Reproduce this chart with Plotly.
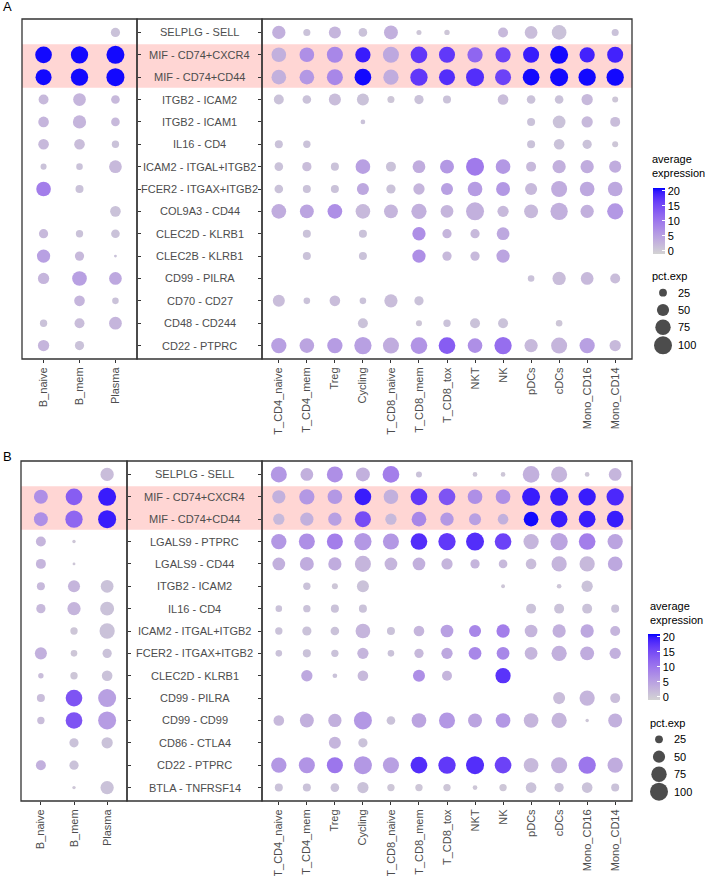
import math
import plotly.graph_objects as go

W, H = 705, 876

# ---------------- data ----------------
rows_A = ["SELPLG - SELL", "MIF - CD74+CXCR4", "MIF - CD74+CD44", "ITGB2 - ICAM2",
          "ITGB2 - ICAM1", "IL16 - CD4", "ICAM2 - ITGAL+ITGB2", "FCER2 - ITGAX+ITGB2",
          "COL9A3 - CD44", "CLEC2D - KLRB1", "CLEC2B - KLRB1", "CD99 - PILRA",
          "CD70 - CD27", "CD48 - CD244", "CD22 - PTPRC"]
rows_B = ["SELPLG - SELL", "MIF - CD74+CXCR4", "MIF - CD74+CD44", "LGALS9 - PTPRC",
          "LGALS9 - CD44", "ITGB2 - ICAM2", "IL16 - CD4", "ICAM2 - ITGAL+ITGB2",
          "FCER2 - ITGAX+ITGB2", "CLEC2D - KLRB1", "CD99 - PILRA", "CD99 - CD99",
          "CD86 - CTLA4", "CD22 - PTPRC", "BTLA - TNFRSF14"]
b_cells = ["B_naive", "B_mem", "Plasma"]
other_cells = ["T_CD4_naive", "T_CD4_mem", "Treg", "Cycling", "T_CD8_naive", "T_CD8_mem",
               "T_CD8_tox", "NKT", "NK", "pDCs", "cDCs", "Mono_CD16", "Mono_CD14"]
highlight_rows = ["MIF - CD74+CXCR4", "MIF - CD74+CD44"]
N = None

# percent expressed, panel A, B-cell block
pct_A_b = [[N, N, 32], [87, 93, 100], [81, 93, 100], [36, 54, 29], [40, 58, 29],
           [40, 40, 23], [18, 20, 54], [69, 26, N], [N, N, 40], [32, 23, 29],
           [58, 32, 10], [44, 69, 54], [N, 40, 20], [23, 36, 54], [44, 32, N]]
expr_A_b = [[N, N, 1], [20.5, 20.5, 20.5], [20.5, 20.5, 20.5], [2, 2.5, 2], [2.5, 2.5, 2],
            [2, 1.5, 1], [1, 1, 2], [9, 1, N], [N, N, 1], [2, 1, 1],
            [5, 2, 1], [2.5, 5, 4], [N, 2.5, 1], [1, 1.5, 2.5], [2.5, 1, N]]

# panel A, other cells
pct_A_o = [
    [58, 22, 49, 29, 63, 15, 16, N, 36, 54, 69, N, 22],
    [69, 69, 81, 74, 81, 87, 81, 74, 74, 81, 100, 74, 81],
    [69, 69, 81, 87, 74, 93, 81, 100, 81, 87, 100, 93, 93],
    [36, 29, 49, 49, 22, 32, 26, N, 40, 29, 29, 44, 18],
    [N, N, N, 14, N, N, N, N, N, 26, 54, 44, 36],
    [26, 23, N, N, N, N, N, N, N, 26, 40, 32, 18],
    [29, 32, 26, 69, 36, 54, 63, 100, 69, 36, 58, 58, 49],
    [29, 26, 26, 49, 32, 44, 49, 69, 63, 49, 81, 69, 69],
    [69, 63, 69, 69, 63, 74, 54, 100, 44, 63, 93, 58, 81],
    [N, 26, N, 26, N, 58, 32, 32, 54, N, N, N, N],
    [N, 26, N, 26, N, 58, 32, 32, 58, N, N, N, N],
    [N, N, N, N, N, N, N, N, N, 20, 58, 54, 36],
    [49, 20, 40, 20, 58, 32, N, N, N, N, N, N, N],
    [N, N, N, 36, N, 18, 23, 36, 36, N, 20, N, N],
    [74, 69, 74, 93, 81, 87, 87, 69, 93, 58, 81, 74, 44]]
expr_A_o = [
    [3, 1, 2.5, 1, 3, 0.5, 0.5, N, 2, 1.5, 1, N, 1],
    [3, 7, 8, 19.5, 4, 17, 17, 12, 16, 19.5, 20.5, 19, 19],
    [3, 6, 8, 20.5, 3.5, 17, 18, 18, 16, 20.5, 20.5, 20.5, 20.5],
    [1, 1, 1.5, 1, 0.5, 1, 1, N, 1.5, 1, 1, 2, 0.5],
    [N, N, N, 1, N, N, N, N, N, 1, 1, 2, 1.5],
    [1, 1, N, N, N, N, N, N, N, 1, 1, 1, 0.5],
    [1, 1.5, 1, 5, 1, 3.5, 6, 9.5, 6, 2, 3, 3.5, 3.5],
    [1, 1, 1, 4, 1, 2.5, 5, 5.5, 6, 2, 3.5, 4, 4],
    [3.5, 4.5, 7, 2, 2.5, 3, 2.5, 3, 2, 2, 3, 3, 6],
    [N, 1, N, 1, N, 7, 2.5, 2, 4, N, N, N, N],
    [N, 1, N, 1, N, 7, 2, 2, 4.5, N, N, N, N],
    [N, N, N, N, N, N, N, N, N, 1, 1.5, 2, 1.5],
    [1.5, 1, 1.5, 1, 1.5, 1, N, N, N, N, N, N, N],
    [N, N, N, 1, N, 0.5, 1, 1, 1, N, 0.5, N, N],
    [5, 4.5, 5.5, 5, 3.5, 6.5, 13, 7, 11, 2, 2.5, 5, 2]]

# panel B, B-cell block
pct_B_b = [[N, N, 58], [63, 87, 100], [63, 93, 100], [36, 11, N], [36, 10, N],
           [26, 49, 54], [32, 58, 63], [N, 23, 74], [49, 20, 32], [16, 23, 40],
           [26, 87, 100], [23, 87, 100], [N, 32, 44], [36, 32, N], [N, 11, 58]]
expr_B_b = [[N, N, 1.5], [7, 13, 19.5], [7, 12, 19.5], [2.5, 0.5, N], [2.5, 0.5, N],
            [2, 2.5, 1], [2, 2.5, 1], [N, 0.5, 1], [3, 0.5, 1], [1.5, 0.5, 1],
            [1.5, 14, 5], [1.5, 14, 5.5], [N, 1, 1], [3, 1, N], [N, 0.5, 1]]

# panel B, other cells
pct_B_o = [
    [81, 54, 81, 63, 87, 18, N, 14, 14, 87, 81, 14, 54],
    [58, 74, 69, 87, 69, 87, 87, 69, 69, 100, 100, 93, 93],
    [44, 58, 58, 81, 44, 69, 58, 49, 40, 69, 87, 87, 87],
    [74, 81, 81, 93, 81, 87, 93, 100, 87, 74, 93, 87, 74],
    [54, 63, 58, 81, 54, 54, 44, 32, 29, 40, 74, 74, 69],
    [N, 23, 18, 49, N, N, N, N, 12, N, 14, 44, N],
    [20, 23, 26, 26, N, N, N, N, N, 36, 36, 36, 26],
    [23, 32, 29, 69, 26, 40, 54, 49, 58, 54, 58, 58, 36],
    [20, 26, 23, 44, 20, 32, 44, 54, 54, 54, 74, 63, 44],
    [N, 44, 14, 40, N, 49, 36, N, 74, N, N, N, N],
    [N, N, N, N, N, N, N, N, N, N, 49, 74, 36],
    [40, 63, 58, 100, 29, 69, 81, 63, 69, 69, 74, 11, 63],
    [N, N, 49, 32, N, N, N, N, N, N, N, N, N],
    [74, 81, 81, 100, 81, 87, 93, 100, 87, 69, 81, 93, 74],
    [26, 26, 29, 44, 23, 23, 23, 14, 23, 40, 32, 40, 26]]
expr_B_o = [
    [6, 3, 7, 3, 9, 1, N, 0.5, 0.5, 3, 2.5, 0.5, 2.5],
    [3, 6, 6, 19.5, 3, 17, 14, 7, 7, 19.5, 19.5, 19.5, 18.5],
    [2, 3, 5, 15, 2, 8, 6, 5, 3, 20.5, 19.5, 19.5, 19.5],
    [6, 7, 9, 6, 6, 18, 17, 18, 16, 2.5, 4.5, 9, 4.5],
    [3, 3.5, 3.5, 2.5, 2.5, 3, 2.5, 2.5, 2, 1.5, 2.5, 2, 4],
    [N, 1, 0.5, 1, N, N, N, N, 0.5, N, 0.5, 1, N],
    [1, 1, 1, 1, N, N, N, N, N, 1, 1, 1, 1],
    [1, 1, 1, 2.5, 1, 2.5, 5, 8, 9, 2.5, 3, 4, 2.5],
    [1, 1, 1, 2.5, 1, 2, 4, 8, 8, 2.5, 3, 3.5, 3],
    [N, 4, 1, 2, N, 7, 2.5, N, 17.5, N, N, N, N],
    [N, N, N, N, N, N, N, N, N, N, 1.5, 2.5, 1.5],
    [2, 3, 3, 6, 1, 4.5, 6, 4.5, 6, 2.5, 2.5, 0.5, 3],
    [N, N, 2.5, 1, N, N, N, N, N, N, N, N, N],
    [6, 6.5, 10, 6, 5, 18, 17, 18, 16, 2, 3, 10, 3.5],
    [1, 1, 1, 1, 0.5, 0.5, 0.5, 0.5, 0.5, 1, 1, 1, 1]]

size_legend_vals = [25, 50, 75, 100]
color_ticks = [0, 5, 10, 15, 20]
C_MIN, C_MAX = -1.1, 20.9

# ---------------- helpers ----------------
def diam(p):
    # area-proportional size scale (px diameter)
    return math.sqrt(max(-27 + 3.51 * p, 4))


def px(x):
    return x / W


def py(y):
    return 1 - y / H


def _lin(c):
    c = c / 255
    return c / 12.92 if c <= 0.04045 else ((c + 0.055) / 1.055) ** 2.4


def _gam(c):
    c = 12.92 * c if c <= 0.0031308 else 1.055 * max(c, 0) ** (1 / 2.4) - 0.055
    return max(0, min(255, round(c * 255)))


XN, YN, ZN = 0.95047, 1.0, 1.08883


def _f(t):
    return t ** (1 / 3) if t > 0.008856 else 7.787 * t + 16 / 116


def _finv(t):
    return t ** 3 if t ** 3 > 0.008856 else (t - 16 / 116) / 7.787


def to_lab(rgb):
    r, g, b = (_lin(v) for v in rgb)
    X = 0.4124 * r + 0.3576 * g + 0.1805 * b
    Y = 0.2126 * r + 0.7152 * g + 0.0722 * b
    Z = 0.0193 * r + 0.1192 * g + 0.9505 * b
    fx, fy, fz = _f(X / XN), _f(Y / YN), _f(Z / ZN)
    return (116 * fy - 16, 500 * (fx - fy), 200 * (fy - fz))


def to_rgb(lab):
    L, a, b = lab
    fy = (L + 16) / 116
    fx = fy + a / 500
    fz = fy - b / 200
    X, Y, Z = XN * _finv(fx), YN * _finv(fy), ZN * _finv(fz)
    r = 3.2406 * X - 1.5372 * Y - 0.4986 * Z
    g = -0.9689 * X + 1.8758 * Y + 0.0415 * Z
    bb = 0.0557 * X - 0.2040 * Y + 1.0570 * Z
    return "rgb(%d,%d,%d)" % (_gam(r), _gam(g), _gam(bb))


lab0, lab1 = to_lab((211, 211, 211)), to_lab((0, 0, 255))
colorscale = []
for i in range(21):
    t = i / 20
    colorscale.append([t, to_rgb(tuple(lab0[k] + (lab1[k] - lab0[k]) * t for k in range(3)))])

FONT = "Liberation Sans, Arial, sans-serif"
AX_TXT = "#4D4D4D"
LINE = "#333333"

panels = [
    dict(name="A", rows=rows_A, pb=pct_A_b, eb=expr_A_b, po=pct_A_o, eo=expr_A_o,
         top=19, bottom=359, left=22, s1=137, s2=262, right=632, ca="coloraxis",
         xa=("x", "x2"), ya=("y", "y2"), lab_y=7,
         leg=dict(tx=650, t1=161, t2=171, cbx=653, cbt=188, cbb=254,
                  st=276, cx=663, cy=[292.7, 310, 327.3, 345.3], lx=676)),
    dict(name="B", rows=rows_B, pb=pct_B_b, eb=expr_B_b, po=pct_B_o, eo=expr_B_o,
         top=461, bottom=801, left=21, s1=127, s2=262, right=632, ca="coloraxis2",
         xa=("x3", "x4"), ya=("y3", "y4"), lab_y=456,
         leg=dict(tx=648, t1=608, t2=618, cbx=648, cbt=634, cbb=700,
                  st=723, cx=659, cy=[739.3, 756.7, 774.3, 791.7], lx=672)),
]

fig = go.Figure()
shapes, annotations = [], []
layout_axes = {}

for pi, P in enumerate(panels):
    nrow = len(P["rows"])
    ydom = [py(P["bottom"]), py(P["top"])]
    yrange = [nrow - 1 + 0.6, -0.6]
    for side, (cells, pmat, emat) in enumerate([(b_cells, P["pb"], P["eb"]),
                                                (other_cells, P["po"], P["eo"])]):
        xs, ys, ss, cs = [], [], [], []
        for r in range(nrow):
            for c in range(len(cells)):
                p = pmat[r][c]
                if p is None:
                    continue
                xs.append(cells[c])
                ys.append(r)
                ss.append(diam(p))
                cs.append(emat[r][c])
        xa = P["xa"][side]
        ya = P["ya"][side]
        fig.add_trace(go.Scatter(
            x=xs, y=ys, mode="markers", xaxis=xa, yaxis=ya, showlegend=False,
            hoverinfo="skip",
            marker=dict(size=ss, color=cs, coloraxis=P["ca"], line=dict(width=0),
                        opacity=1)))
        xkey = "xaxis" + xa[1:]
        ykey = "yaxis" + ya[1:]
        xdom = [px(P["left"]), px(P["s1"])] if side == 0 else [px(P["s2"]), px(P["right"])]
        layout_axes[xkey] = dict(
            domain=xdom, anchor=ya, type="category", categoryorder="array",
            categoryarray=cells, range=[-0.6, len(cells) - 1 + 0.6],
            showgrid=False, zeroline=False, showline=False,
            ticks="outside", ticklen=3, tickwidth=1, tickcolor=LINE,
            tickangle=-90, tickfont=dict(family=FONT, size=11, color=AX_TXT),
            fixedrange=True)
        layout_axes[ykey] = dict(
            domain=ydom, anchor=xa, range=yrange, showgrid=False, zeroline=False,
            showline=False, side="right" if side == 0 else "left",
            tickmode="array", tickvals=list(range(nrow)), showticklabels=False,
            ticks="outside", ticklen=3, tickwidth=1, tickcolor=LINE, fixedrange=True)

    ya0 = P["ya"][0]
    # highlight band
    hi = [P["rows"].index(h) for h in highlight_rows]
    shapes.append(dict(type="rect", xref="paper", yref=ya0, layer="below",
                       x0=px(P["left"]), x1=px(P["right"]),
                       y0=min(hi) - 0.47, y1=max(hi) + 0.47,
                       fillcolor="rgb(255,214,212)", line=dict(width=0)))
    # borders
    for x0, x1 in [(P["left"], P["s1"]), (P["s1"], P["s2"]), (P["s2"], P["right"])]:
        shapes.append(dict(type="rect", xref="paper", yref="paper", layer="above",
                           x0=px(x0), x1=px(x1), y0=py(P["bottom"]), y1=py(P["top"]),
                           line=dict(color=LINE, width=1.3), fillcolor="rgba(0,0,0,0)"))
    # row labels in the middle column
    for r, lab in enumerate(P["rows"]):
        annotations.append(dict(text=lab, xref="paper", yref=ya0,
                                x=px((P["s1"] + P["s2"]) / 2), y=r,
                                xanchor="center", yanchor="middle", showarrow=False,
                                font=dict(family=FONT, size=11, color=AX_TXT)))
    # panel letter
    annotations.append(dict(text=P["name"], xref="paper", yref="paper",
                            x=px(1), y=py(P["lab_y"]), xanchor="left", yanchor="middle",
                            showarrow=False, font=dict(family=FONT, size=13, color="black")))
    L = P["leg"]
    # colour legend title (single two-line text)
    annotations.append(dict(text="average<br>expression", xref="paper", yref="paper",
                            x=px(L["tx"]), y=py((L["t1"] + L["t2"]) / 2),
                            xanchor="left", yanchor="middle", align="left",
                            showarrow=False, font=dict(family=FONT, size=11, color="black")))
    layout_axes[P["ca"]] = dict(
        colorscale=colorscale, cmin=C_MIN, cmax=C_MAX,
        colorbar=dict(x=px(L["cbx"]), xanchor="left", xpad=0, ypad=0,
                      y=py((L["cbt"] + L["cbb"]) / 2), yanchor="middle",
                      len=L["cbb"] - L["cbt"], lenmode="pixels",
                      thickness=12, thicknessmode="pixels", outlinewidth=0,
                      tickmode="array", tickvals=color_ticks, ticks="inside",
                      tickcolor="white", ticklen=3, tickwidth=1,
                      tickfont=dict(family=FONT, size=11, color="black"),
                      title=dict(text="")))
    # size legend
    annotations.append(dict(text="pct.exp", xref="paper", yref="paper", x=px(L["tx"]),
                            y=py(L["st"]), xanchor="left", yanchor="middle",
                            showarrow=False, font=dict(family=FONT, size=11, color="black")))
    fig.add_trace(go.Scatter(
        x=[L["cx"]] * len(size_legend_vals), y=L["cy"], xaxis="x5", yaxis="y5",
        mode="markers", showlegend=False, hoverinfo="skip",
        marker=dict(size=[diam(v) for v in size_legend_vals], color="black",
                    line=dict(width=0))))
    for v, yy in zip(size_legend_vals, L["cy"]):
        annotations.append(dict(text=str(v), xref="paper", yref="paper", x=px(L["lx"]),
                                y=py(yy), xanchor="left", yanchor="middle",
                                showarrow=False,
                                font=dict(family=FONT, size=11, color="black")))

layout_axes["xaxis5"] = dict(domain=[0, 1], range=[0, W], visible=False, anchor="y5",
                             fixedrange=True)
layout_axes["yaxis5"] = dict(domain=[0, 1], range=[H, 0], visible=False, anchor="x5",
                             fixedrange=True)

fig.update_layout(
    width=W, height=H, autosize=False,
    margin=dict(l=0, r=0, t=0, b=0, pad=0),
    paper_bgcolor="white", plot_bgcolor="rgba(0,0,0,0)",
    font=dict(family=FONT, size=11, color="black"),
    shapes=shapes, annotations=annotations, showlegend=False,
    **layout_axes)

fig.write_html(
    "out.html",
    config={"displayModeBar": False, "staticPlot": True},
    post_script="document.body.style.margin='0px';document.body.style.padding='0px';"
                "document.body.style.overflow='hidden';"
                "document.documentElement.style.overflow='hidden';")
